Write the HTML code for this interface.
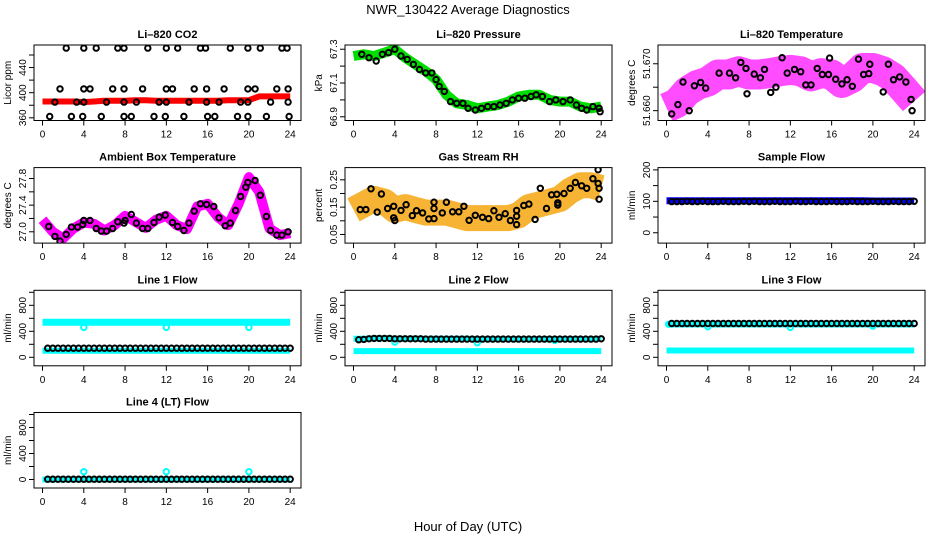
<!DOCTYPE html>
<html><head><meta charset="utf-8"><title>NWR_130422 Average Diagnostics</title>
<style>
html,body{margin:0;padding:0;background:#fff;}
svg{display:block;font-family:"Liberation Sans",Arial,sans-serif;}
</style></head>
<body>
<svg id="chart" xmlns="http://www.w3.org/2000/svg" width="936" height="540" viewBox="0 0 936 540">
<defs id="defs"></defs>
<text x="468" y="14" text-anchor="middle" font-size="13">NWR_130422  Average Diagnostics</text>
<text x="468" y="531" text-anchor="middle" font-size="13">Hour of Day (UTC)</text>
</svg>
<script>
// ---------- data ----------
const hourTicks = [0,4,8,12,16,20,24];
const hourly = [0,1,2,3,4,5,6,7,8,9,10,11,12,13,14,15,16,17,18,19,20,21,22,23,24];
const flowHours = [0.5,1,1.5,2,2.5,3,3.5,4,4.5,5,5.5,6,6.5,7,7.5,8,8.5,9,9.5,10,10.5,11,11.5,12,12.5,13,13.5,14,14.5,15,15.5,16,16.5,17,17.5,18,18.5,19,19.5,20,20.5,21,21.5,22,22.5,23,23.5,24];

// CO2
const co2Red = [386,386,386,386,385,386,387,387,387,388,388,387,387,387,387,387,387,387,388,388,388,394,394,394,394];
const co2Hours = [2.3,4.0,5.2,7.3,7.9,10.2,12.0,13.1,15.3,15.8,18.2,19.9,21.1,23.2,23.7, 1.7,4.0,4.6,6.8,7.9,9.7,12.0,12.6,14.7,15.9,17.6,19.9,20.6,22.7,23.8, 1.2,3.3,4.0,6.2,7.9,9.1,11.3,12.0,14.2,15.9,17.1,19.2,19.9,22.1,23.8, 0.7,2.8,3.9,5.7,7.9,8.6,10.8,11.9,13.7,16.0,16.7,18.9,19.9,21.7,23.9];
const co2Vals = [471,471,471,471,471,471,471,471,471,471,471,471,471,471,471, 406,406,406,406,406,406,406,406,406,406,406,406,406,406,406, 385,385,385,385,385,385,385,385,385,385,385,385,385,385,385, 362,362,362,362,362,362,362,362,362,362,362,362,362,362,362];

// Pressure
const presGreen = [67.26,67.27,67.26,67.28,67.30,67.25,67.21,67.17,67.12,67.03,66.98,66.97,66.95,66.96,66.97,66.99,67.02,67.03,67.03,67.00,66.99,66.99,66.96,66.95,66.96];
const presHours = [0.8,1.5,2.2,2.8,3.4,4.0,4.6,5.2,5.8,6.4,7.0,7.6,8.0,8.3,8.8,9.4,10.0,10.6,11.1,11.8,12.4,13.0,13.6,14.2,14.8,15.4,16.0,16.6,17.2,17.7,18.3,19.0,19.6,20.3,21.0,21.6,22.1,22.6,23.2,23.8,23.9];
const presVals = [67.27,67.25,67.23,67.27,67.28,67.30,67.26,67.24,67.21,67.18,67.16,67.16,67.12,67.08,67.05,66.99,66.98,66.98,66.95,66.94,66.95,66.96,66.96,66.97,66.98,67.0,67.01,67.01,67.02,67.03,67.02,66.99,67.0,66.99,67.0,66.97,66.95,66.94,66.96,66.95,66.93];

// Li-820 temperature
const tempMag = [51.6606,51.6616,51.6641,51.6655,51.6662,51.6677,51.6677,51.6684,51.6677,51.6677,51.6680,51.6684,51.6687,51.6684,51.6673,51.6680,51.6677,51.6659,51.6670,51.6691,51.6691,51.6684,51.6670,51.6645,51.6620];
const tempHours = [0.5,1.1,1.6,2.2,2.7,3.3,3.8,5.1,6.1,6.7,7.2,7.7,7.8,8.5,9.1,9.5,10.1,10.6,11.2,11.7,12.4,13.0,13.5,14.0,14.6,15.1,15.7,15.8,16.4,17.0,17.5,18.0,18.6,19.1,19.6,19.7,21.0,21.5,22.0,22.6,23.2,23.7,23.8];
const tempVals = [51.6593,51.6613,51.6661,51.6600,51.6653,51.6660,51.6648,51.6680,51.6680,51.6670,51.6703,51.6690,51.6636,51.6678,51.6670,51.6688,51.6639,51.6650,51.6713,51.6680,51.6688,51.6683,51.6655,51.6655,51.6690,51.6677,51.6677,51.6712,51.6667,51.6657,51.6666,51.6652,51.6710,51.6677,51.6679,51.6699,51.6640,51.6699,51.6666,51.6672,51.6661,51.6624,51.6600];

// Ambient box temperature
const ambMag = [27.18,27.0,26.9,27.05,27.14,27.12,27.02,27.1,27.24,27.15,27.06,27.18,27.24,27.1,27.04,27.38,27.42,27.22,27.1,27.42,27.82,27.6,27.05,26.95,26.98];
const ambHours = [0.6,1.2,1.7,2.3,2.8,3.4,3.9,4.0,4.6,5.2,5.7,6.2,6.8,7.3,7.9,8.0,8.6,9.1,9.7,10.2,10.8,11.3,11.9,12.6,13.1,13.7,14.2,14.7,15.3,15.9,16.6,17.1,17.7,18.2,18.7,19.2,19.7,19.9,20.6,21.1,21.7,22.1,22.7,23.2,23.8];
const ambVals = [27.08,26.93,26.86,26.96,27.07,27.07,27.11,27.17,27.17,27.05,27.01,27.01,27.05,27.15,27.13,27.17,27.26,27.13,27.05,27.05,27.14,27.22,27.25,27.14,27.08,27.02,27.13,27.31,27.42,27.41,27.38,27.21,27.09,27.13,27.32,27.53,27.67,27.74,27.77,27.55,27.23,27.02,26.95,26.95,27.0];

// Gas stream RH
const rhOrange = [0.14,0.16,0.18,0.17,0.14,0.15,0.14,0.13,0.13,0.13,0.12,0.11,0.11,0.11,0.11,0.11,0.12,0.15,0.16,0.17,0.18,0.21,0.23,0.23,0.22];
const rhHours = [0.65,1.2,1.7,2.3,2.7,3.3,3.9,3.9,4.0,4.6,5.1,5.7,6.1,6.7,7.3,7.8,7.8,7.8,8.6,9.0,9.6,10.2,10.7,11.2,11.8,12.5,13.1,13.6,14.1,14.7,15.2,15.8,15.8,15.8,16.5,17.0,17.6,18.1,18.7,19.2,19.7,19.8,19.8,20.4,21.0,21.5,22.1,22.6,23.2,23.7,23.7,23.8,23.8];
const rhVals = [0.141,0.141,0.217,0.132,0.198,0.145,0.111,0.153,0.101,0.138,0.159,0.119,0.137,0.129,0.107,0.168,0.108,0.145,0.129,0.168,0.133,0.133,0.153,0.102,0.12,0.113,0.108,0.137,0.113,0.126,0.101,0.117,0.138,0.086,0.156,0.161,0.105,0.219,0.145,0.195,0.197,0.158,0.166,0.2,0.219,0.24,0.228,0.219,0.254,0.287,0.237,0.219,0.179];

// Sample flow
const sampleBlue = [102,102,102,102,102,102,102,102,102,102,102,102,102,102,102,102,102,102,102,102,101,101,101,101,101];
const sampleBlack = [99,99,99,100,99,99,100,99,99,99,100,99,99,99,100,99,100,99,99,99,100,99,99,99,100,99,99,100,99,99,99,100,99,99,99,100,99,99,99,100,99,99,99,100,99,99,99,100];

// Line 1
const l1CyanHi = [540,540,540,540,540,540,540,540,540,540,540,540,540,540,540,540,540,540,540,540,540,540,540,540,540];
const l1CyanLo = [100,100,100,100,100,100,100,100,100,100,100,100,100,100,100,100,100,100,100,100,100,100,100,100,100];
const l1Black = [140,140,140,140,140,140,140,140,140,140,140,140,140,140,140,140,140,140,140,140,140,140,140,140,140,140,140,140,140,140,140,140,140,140,140,140,140,140,140,140,140,140,140,140,140,140,140,140];
const l1DipHours = [4,12,20];
const l1DipVals = [460,460,460];

// Line 2
const l2CyanHi = [285,285,290,290,285,285,285,285,285,285,285,285,280,280,280,280,280,280,280,280,280,280,280,280,285];
const l2CyanLo = [95,95,95,95,95,95,95,95,95,95,95,95,95,95,95,95,95,95,95,95,95,95,95,95,95];
const l2Black = [270,275,285,290,290,290,290,285,285,285,285,285,285,280,280,280,280,280,280,280,280,280,280,280,280,280,280,280,280,280,280,280,280,280,280,280,280,280,280,280,280,280,280,280,280,280,280,285];
const l2DipHours = [4,12,19.5];
const l2DipVals = [235,225,260];

// Line 3
const l3CyanHi = [505,505,505,505,505,505,505,505,505,505,505,505,505,505,505,505,505,505,505,505,505,505,505,505,505];
const l3CyanLo = [105,105,105,105,105,105,105,105,105,105,105,105,105,105,105,105,105,105,105,105,105,105,105,105,105];
const l3Black = [520,520,520,520,520,520,520,520,520,520,520,520,520,520,520,520,520,520,520,520,520,520,520,520,520,520,520,520,520,520,520,520,520,520,520,520,520,520,520,520,520,520,520,520,520,520,520,520];
const l3DipHours = [0.2,4,12,20];
const l3DipVals = [510,470,460,480];

// Line 4
const l4Cyan = [0,0,0,0,0,0,0,0,0,0,0,0,0,0,0,0,0,0,0,0,0,0,0,0,0];
const l4Black = [5,5,5,5,5,5,5,5,5,5,5,5,5,5,5,5,5,5,5,5,5,5,5,5,5,5,5,5,5,5,5,5,5,5,5,5,5,5,5,5,5,5,5,5,5,5,5,5];
const l4DipHours = [4,12,20];
const l4DipVals = [120,120,120];

// ---------- layout ----------
const NS = "http://www.w3.org/2000/svg";
const svg = document.getElementById('chart');
const defs = document.getElementById('defs');
const colLeft = [34, 345, 658];
const rowTop = [45, 167.6, 290.3, 412.5];
const BW = 267, BH = 75.5;

function el(tag, parent) { const e = document.createElementNS(NS, tag); parent.appendChild(e); return e; }

function makePanel(col, row, key, title, ylab, lo, hi, ticks, labels) {
  const L = colLeft[col], T = rowTop[row];
  const g = el('g', svg);
  
  
  const cp = el('clipPath', defs);
  cp.setAttribute('id', 'clip-' + key);
  const cr = el('rect', cp);
  cr.setAttribute('x', L); cr.setAttribute('y', T); cr.setAttribute('width', BW); cr.setAttribute('height', BH);
  const marks = el('g', g);
  marks.setAttribute('clip-path', 'url(#clip-' + key + ')');
  
  
  const p = {
    g: marks,
    x: h => L + 8.5 + h * 10.32,
    y: v => T + (hi - v) / (hi - lo) * BH
  };
  const box = el('rect', g);
  box.setAttribute('x', L); box.setAttribute('y', T); box.setAttribute('width', BW); box.setAttribute('height', BH);
  box.setAttribute('fill', 'none'); box.setAttribute('stroke', '#000'); box.setAttribute('stroke-width', '1');
  
  
  const t = el('text', g);
  t.textContent = title;
  t.setAttribute('x', L + BW / 2); t.setAttribute('y', T - 7);
  t.setAttribute('text-anchor', 'middle'); t.setAttribute('font-size', '11'); t.setAttribute('font-weight', 'bold');
  
  
  const yl = el('text', g);
  yl.textContent = ylab;
  yl.setAttribute('transform', 'translate(' + (L - 23) + ',' + (T + BH / 2) + ') rotate(-90)');
  yl.setAttribute('text-anchor', 'middle'); yl.setAttribute('font-size', '10');
  
  
  ticks.forEach((v, i) => {
    const yy = p.y(v);
    const tk = el('line', g);
    tk.setAttribute('x1', L - 5); tk.setAttribute('x2', L); tk.setAttribute('y1', yy); tk.setAttribute('y2', yy);
    tk.setAttribute('stroke', '#000');
    
    
    if (labels[i] !== '') {
      const tl = el('text', g);
      tl.textContent = labels[i];
      tl.setAttribute('transform', 'translate(' + (L - 8) + ',' + yy + ') rotate(-90)');
      tl.setAttribute('text-anchor', 'middle'); tl.setAttribute('font-size', '10');
      
      
    }
  });
  hourTicks.forEach(h => {
    const xx = p.x(h);
    const tk = el('line', g);
    tk.setAttribute('x1', xx); tk.setAttribute('x2', xx); tk.setAttribute('y1', T + BH); tk.setAttribute('y2', T + BH + 5);
    tk.setAttribute('stroke', '#000');
    
    
    const tl = el('text', g);
    tl.textContent = String(h);
    tl.setAttribute('x', xx); tl.setAttribute('y', T + BH + 17);
    tl.setAttribute('text-anchor', 'middle'); tl.setAttribute('font-size', '10');
    
    
  });
  return p;
}

function band(p, hours, vals, color, width, name, opacity) {
  const pl = el('polyline', p.g);
  pl.setAttribute('points', hours.map((h, i) => p.x(h).toFixed(1) + ',' + p.y(vals[i]).toFixed(1)).join(' '));
  pl.setAttribute('fill', 'none'); pl.setAttribute('stroke', color); pl.setAttribute('stroke-width', width);
  pl.setAttribute('stroke-linejoin', 'round'); pl.setAttribute('stroke-linecap', 'butt');
  if (opacity) pl.setAttribute('stroke-opacity', opacity);
  
  
}
function dots(p, hours, vals, color, name, r) {
  hours.forEach((h, i) => {
    const c = el('circle', p.g);
    c.setAttribute('cx', p.x(h).toFixed(1)); c.setAttribute('cy', p.y(vals[i]).toFixed(1));
    c.setAttribute('r', r || 2.7);
    c.setAttribute('fill', 'none'); c.setAttribute('stroke', color); c.setAttribute('stroke-width', '2');
    
    
  });
}

const pCo2 = makePanel(0, 0, 'co2', 'Li\u2013820 CO2', 'Licor ppm', 355.7, 475.9, [360,380,400,420,440,460], ['360','','400','','440','']);
band(pCo2, hourly, co2Red, '#ff0000', 6, 'co2-red-series');
dots(pCo2, co2Hours, co2Vals, '#000', 'co2-point');

const pPres = makePanel(1, 0, 'pressure', 'Li\u2013820 Pressure', 'kPa', 66.878, 67.325, [66.9,67.0,67.1,67.2,67.3], ['66.9','','67.1','','67.3']);
band(pPres, hourly, presGreen, '#00dd00', 10, 'pressure-green-series');
dots(pPres, presHours, presVals, '#000', 'pressure-point');

const pTemp = makePanel(2, 0, 'li820-temp', 'Li\u2013820 Temperature', 'degrees C', 51.6579, 51.6740, [51.660,51.665,51.670], ['51.660','','51.670']);
band(pTemp, hourly, tempMag, '#ff00ff', 30, 'li820-temp-magenta-series', 0.7);
dots(pTemp, tempHours, tempVals, '#000', 'li820-temp-point');

const pAmb = makePanel(0, 1, 'ambient', 'Ambient Box Temperature', 'degrees C', 26.83, 27.964, [27.0,27.2,27.4,27.6,27.8], ['27.0','','27.4','','27.8']);
band(pAmb, hourly, ambMag, '#ff00ff', 10, 'ambient-magenta-series');
dots(pAmb, ambHours, ambVals, '#000', 'ambient-point');

const pRh = makePanel(1, 1, 'rh', 'Gas Stream RH', 'percent', 0.0184, 0.2947, [0.05,0.10,0.15,0.20,0.25], ['0.05','','0.15','','0.25']);
band(pRh, hourly, rhOrange, '#f5a000', 26, 'rh-orange-series', 0.8);
dots(pRh, rhHours, rhVals, '#000', 'rh-point');

const pSam = makePanel(2, 1, 'sample-flow', 'Sample Flow', 'ml/min', -32.9, 207.3, [0,50,100,150,200], ['0','','100','','200']);
band(pSam, hourly, sampleBlue, '#0000ff', 7, 'sample-flow-blue-series');
dots(pSam, flowHours, sampleBlack, '#000', 'sample-flow-point');

const flowTicks = [0,200,400,600,800,1000], flowLabels = ['0','','400','','800',''];
const pL1 = makePanel(0, 2, 'line1', 'Line 1 Flow', 'ml/min', -130.8, 1030.8, flowTicks, flowLabels);
band(pL1, hourly, l1CyanHi, '#00ffff', 7, 'line1-cyan-high-series');
band(pL1, hourly, l1CyanLo, '#00ffff', 6, 'line1-cyan-low-series');
dots(pL1, l1DipHours, l1DipVals, '#00ffff', 'line1-cyan-point');
dots(pL1, flowHours, l1Black, '#000', 'line1-point');

const pL2 = makePanel(1, 2, 'line2', 'Line 2 Flow', 'ml/min', -130.8, 1030.8, flowTicks, flowLabels);
band(pL2, hourly, l2CyanHi, '#00ffff', 6, 'line2-cyan-high-series');
band(pL2, hourly, l2CyanLo, '#00ffff', 6, 'line2-cyan-low-series');
dots(pL2, l2DipHours, l2DipVals, '#00ffff', 'line2-cyan-point');
dots(pL2, flowHours, l2Black, '#000', 'line2-point');

const pL3 = makePanel(2, 2, 'line3', 'Line 3 Flow', 'ml/min', -130.8, 1030.8, flowTicks, flowLabels);
band(pL3, hourly, l3CyanHi, '#00ffff', 6, 'line3-cyan-high-series');
band(pL3, hourly, l3CyanLo, '#00ffff', 6, 'line3-cyan-low-series');
dots(pL3, l3DipHours, l3DipVals, '#00ffff', 'line3-cyan-point');
dots(pL3, flowHours, l3Black, '#000', 'line3-point');

const pL4 = makePanel(0, 3, 'line4', 'Line 4 (LT) Flow', 'ml/min', -130.8, 1030.8, flowTicks, flowLabels);
band(pL4, hourly, l4Cyan, '#00ffff', 6, 'line4-cyan-series');
dots(pL4, l4DipHours, l4DipVals, '#00ffff', 'line4-cyan-point');
dots(pL4, flowHours, l4Black, '#000', 'line4-point');
</script>
</body></html>
